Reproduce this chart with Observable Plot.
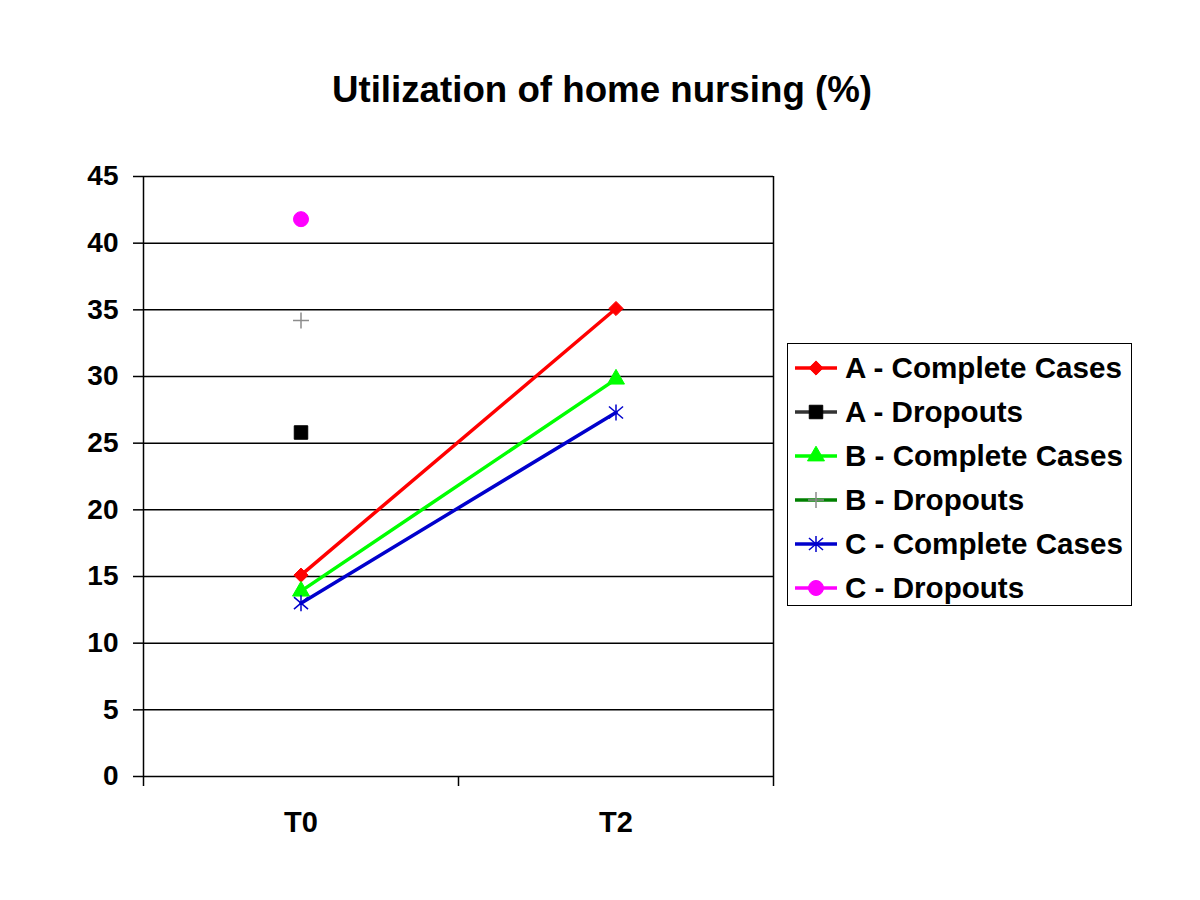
<!DOCTYPE html>
<html>
<head>
<meta charset="utf-8">
<script src="https://cdn.jsdelivr.net/npm/d3@7"></script>
<script src="https://cdn.jsdelivr.net/npm/@observablehq/plot@0.6"></script>
<style>
  body { margin: 0; background: #fff; font-family: "Liberation Sans", Arial, sans-serif; }
  #wrap { position: relative; width: 1200px; height: 900px; overflow: hidden; }
  #title { position: absolute; left: 0; top: 70px; width: 1204px; text-align: center; font-weight: bold; font-size: 36.7px; line-height: 40px; color: #000; }
  #chart { position: absolute; left: 0; top: 0; }
  #legend { position: absolute; left: 787px; top: 343px; width: 345px; height: 263px; box-sizing: border-box; border: 1.5px solid #000; background: #fff; }
  .row { position: absolute; left: 0; height: 44px; width: 343px; }
  .row svg { position: absolute; left: 0; top: 0; }
  .row span { position: absolute; left: 57px; top: 0; line-height: 44px; font-size: 29.6px; font-weight: bold; white-space: nowrap; color: #000; }
</style>
</head>
<body>
<div id="wrap">
  <div id="title">Utilization of home nursing (%)</div>
  <div id="chart"></div>
  <div id="legend"></div>
</div>
<script>
// ---- data ----
const timepoints = ["T0", "T2"];
const seriesNames = ["A - Complete Cases", "A - Dropouts", "B - Complete Cases", "B - Dropouts", "C - Complete Cases", "C - Dropouts"];
const aComplete = [15.1, 35.1];
const aDropouts = [25.8, null];
const bComplete = [13.9, 29.8];
const bDropouts = [34.2, null];
const cComplete = [13.0, 27.3];
const cDropouts = [41.8, null];
const yTicks = [0, 5, 10, 15, 20, 25, 30, 35, 40, 45];

// ---- marker shape: vertical bar plus an X (spreadsheet-style star) ----
const starSymbol = {
  draw(context, size) {
    const s = Math.sqrt(size);
    const v = s * 0.6, dx = s * 0.53, dy = s * 0.45;
    context.moveTo(0, -v); context.lineTo(0, v);
    context.moveTo(-dx, -dy); context.lineTo(dx, dy);
    context.moveTo(-dx, dy); context.lineTo(dx, -dy);
  }
};

// ---- styles ----
const seriesValues = [aComplete, aDropouts, bComplete, bDropouts, cComplete, cDropouts];
const styles = [
  {line: "#ff0000", symbol: d3.symbolDiamond2, fill: "#ff0000", stroke: "#ff0000", r: 6.4, sw: 1},
  {line: "#333333", symbol: d3.symbolSquare, fill: "#000000", stroke: "#000000", r: 7.6, sw: 1},
  {line: "#00ff00", symbol: d3.symbolTriangle, fill: "#00ff00", stroke: "#00ff00", r: 6.3, sw: 1},
  {line: "#008000", symbol: d3.symbolPlus, fill: "none", stroke: "#8c8c8c", r: 5.2, sw: 1.5},
  {line: "#0000cc", symbol: starSymbol, fill: "none", stroke: "#0000cc", r: 7.5, sw: 1.5},
  {line: "#ff00ff", symbol: d3.symbolCircle, fill: "#ff00ff", stroke: "#ff00ff", r: 7.5, sw: 1}
];

const rows = [];
seriesNames.forEach((name, s) => {
  seriesValues[s].forEach((v, i) => {
    if (v != null) rows.push({series: name, time: timepoints[i], xi: i + 0.5, value: v});
  });
});

const seriesMarks = [];
seriesNames.forEach((name, s) => {
  const st = styles[s];
  const data = rows.filter(r => r.series === name);
  if (data.length > 1) seriesMarks.push(Plot.line(data, {x: "xi", y: "value", stroke: st.line, strokeWidth: 3.5}));
  seriesMarks.push(Plot.dot(data, {x: "xi", y: "value", symbol: st.symbol, r: st.r, fill: st.fill, stroke: st.stroke, strokeWidth: st.sw}));
});

const chart = Plot.plot({
  width: 1200,
  height: 900,
  marginLeft: 143,
  marginRight: 427,
  marginTop: 176,
  marginBottom: 124,
  style: {fontFamily: "'Liberation Sans', Arial, sans-serif", fontWeight: "bold", fontSize: "28px", color: "#000", background: "transparent", overflow: "visible"},
  x: {type: "linear", domain: [0, timepoints.length]},
  y: {domain: [0, 45]},
  marks: [
    Plot.gridY(yTicks.filter(t => t > 0), {stroke: "#000", strokeOpacity: 1, strokeWidth: 1.5}),
    Plot.ruleY([0], {stroke: "#000", strokeWidth: 1.5}),
    Plot.ruleX([0, timepoints.length], {stroke: "#000", strokeWidth: 1.5}),
    Plot.axisY({ticks: yTicks, tickSize: 10, tickPadding: 15, label: null, strokeWidth: 1.5}),
    Plot.axisX({ticks: d3.range(0, timepoints.length + 1), tickSize: 10, tickFormat: () => "", label: null, strokeWidth: 1.5}),
    Plot.axisX({ticks: timepoints.map((t, i) => i + 0.5), tickSize: 0, tickPadding: 35, tickFormat: v => timepoints[Math.floor(v)], label: null, fontSize: 29}),
    ...seriesMarks
  ]
});
document.getElementById("chart").appendChild(chart);

// ---- legend ----
const legend = d3.select("#legend");
seriesNames.forEach((name, s) => {
  const st = styles[s];
  const row = legend.append("div").attr("class", "row").style("top", (2 + s * 44) + "px");
  const svg = row.append("svg").attr("width", 56).attr("height", 44);
  svg.append("line").attr("x1", 7).attr("x2", 49).attr("y1", 22).attr("y2", 22).attr("stroke", st.line).attr("stroke-width", 3.5);
  svg.append("path")
    .attr("transform", "translate(28,22)")
    .attr("d", d3.symbol(st.symbol, Math.PI * st.r * st.r)())
    .attr("fill", st.fill).attr("stroke", st.stroke).attr("stroke-width", st.sw);
  row.append("span").text(name);
});
</script>
</body>
</html>
